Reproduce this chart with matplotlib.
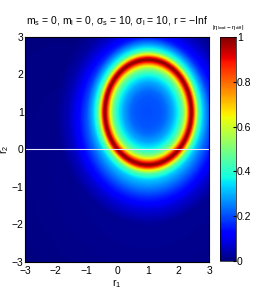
import numpy as np
import matplotlib.pyplot as plt

plt.rcParams['font.family'] = ['Liberation Sans', 'DejaVu Sans']

# radial profiles of |eta_load - eta_diff|, ring centred at (1, 1)
ring_center = (1.0, 1.0)
radius_samples = [0.0, 0.4, 0.58, 0.8, 1.0, 1.13, 1.22, 1.3, 1.36, 1.41, 1.46, 1.5, 1.55, 1.65, 1.82, 2.0, 2.27, 2.6, 3.0, 6.0]
profile_above = [0.2, 0.21, 0.23, 0.29, 0.38, 0.48, 0.6, 0.78, 0.93, 1.0, 0.93, 0.8, 0.64, 0.42, 0.28, 0.15, 0.07, 0.02, 0.0, 0.0]
profile_below = [0.2, 0.21, 0.23, 0.29, 0.38, 0.48, 0.6, 0.78, 0.93, 1.0, 0.93, 0.82, 0.66, 0.45, 0.32, 0.26, 0.17, 0.08, 0.02, 0.0]
xticks = [-3, -2, -1, 0, 1, 2, 3]
yticks = [-3, -2, -1, 0, 1, 2, 3]
tick_labels = ['\u22123', '\u22122', '\u22121', '0', '1', '2', '3']
cticks = [0, 0.2, 0.4, 0.6, 0.8, 1]
ctick_labels = ['0', '0.2', '0.4', '0.6', '0.8', '1']

r1 = np.linspace(-3, 3, 181)
r2 = np.linspace(-3, 3, 181)
R1, R2 = np.meshgrid(r1, r2)
dist = np.hypot(R1 - ring_center[0], R2 - ring_center[1])
ang = np.arctan2(R2 - ring_center[1], R1 - ring_center[0])
w_below = (1 - np.sin(ang)) / 2
Z = (1 - w_below) * np.interp(dist, radius_samples, profile_above) \
    + w_below * np.interp(dist, radius_samples, profile_below)

fig = plt.figure(figsize=(2.73, 3.0), dpi=100)
ax = fig.add_axes([0.092, 0.128, 0.674, 0.749])
im = ax.imshow(Z, extent=[-3, 3, -3, 3], origin='lower', cmap='jet',
               vmin=0, vmax=1, aspect='auto', interpolation='bilinear')
ax.axhline(0, color='#e8e8f8', lw=0.8)

ax.set_xticks(xticks)
ax.set_yticks(yticks)
ax.set_xticklabels(tick_labels)
ax.set_yticklabels(tick_labels)
ax.tick_params(direction='in', length=0, labelsize=7.5, pad=1)
ax.tick_params(axis='x', pad=3)
ax.set_xlabel('$\\mathregular{r_1}$', fontsize=7.5, labelpad=1)
ax.set_ylabel('$\\mathregular{r_2}$', fontsize=7.5)
ax.yaxis.set_label_coords(-0.075, 0.5)
ax.set_title('$\\mathregular{m_s}$ = 0, $\\mathregular{m_l}$ = 0, '
             '$\\mathregular{\\sigma_s}$ = 10, $\\mathregular{\\sigma_l}$ = 10, r = \u2212Inf',
             fontsize=7.5, pad=9)

cax = fig.add_axes([0.806, 0.130, 0.057, 0.747])
cb = fig.colorbar(im, cax=cax, ticks=cticks)
cb.ax.set_yticklabels(ctick_labels)
cb.ax.tick_params(direction='in', length=2, labelsize=7.5, pad=1)
cb.outline.set_linewidth(0.5)
cax.set_title('$\\mathregular{|\\eta_{load} - \\eta_{diff}|}$', fontsize=4.5, pad=6)

fig.savefig('out.png', dpi=100)
